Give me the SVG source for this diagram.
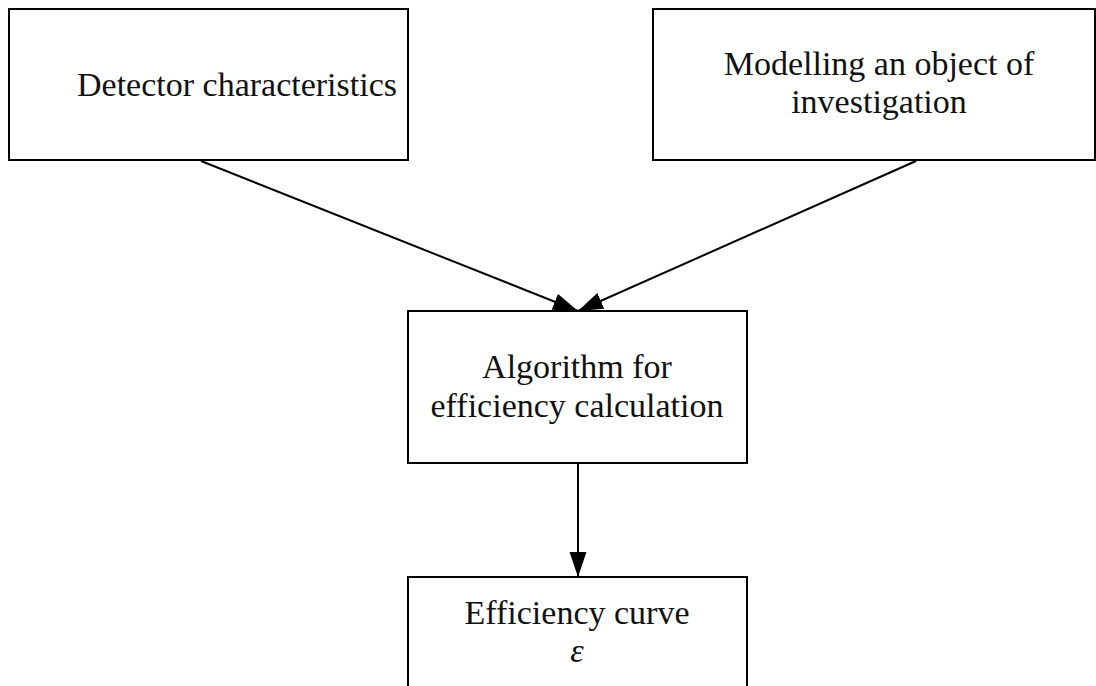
<svg xmlns="http://www.w3.org/2000/svg" width="1096" height="686" viewBox="0 0 1096 686">
<style>
.box{fill:#fff;stroke:#000;stroke-width:2}
.lbl{font-family:"Liberation Serif","Times New Roman",serif;font-size:34px;fill:#111;text-anchor:middle}
.con{stroke:#000;stroke-width:2;fill:none;marker-end:url(#ah)}
</style>
<defs>
<marker id="ah" markerUnits="userSpaceOnUse" markerWidth="26" markerHeight="18" refX="25" refY="8.5" orient="auto">
<path d="M0,0 L25,8.5 L0,17 Z" fill="#000"/>
</marker>
</defs>
<rect width="1096" height="686" fill="#fff"/>
<g id="node-detector">
<rect class="box" x="9" y="9" width="399" height="151"/>
<text class="lbl" x="237" y="96">Detector characteristics</text>
</g>
<g id="node-modelling">
<rect class="box" x="653" y="9" width="442" height="151"/>
<text class="lbl" x="879" y="75">Modelling an object of</text>
<text class="lbl" x="879" y="113">investigation</text>
</g>
<g id="node-algorithm">
<rect class="box" x="408" y="311" width="339" height="152"/>
<text class="lbl" x="577" y="378">Algorithm for</text>
<text class="lbl" x="577" y="417">efficiency calculation</text>
</g>
<g id="node-efficiency">
<rect class="box" x="408" y="577" width="339" height="130"/>
<text class="lbl" x="577" y="624">Efficiency curve</text>
<text class="lbl" x="577" y="662" font-style="italic">ε</text>
</g>
<g id="connectors">
<line class="con" x1="201" y1="161" x2="578" y2="311"/>
<line class="con" x1="916" y1="161" x2="578" y2="311"/>
<line class="con" x1="578" y1="463" x2="578" y2="577"/>
</g>
</svg>
